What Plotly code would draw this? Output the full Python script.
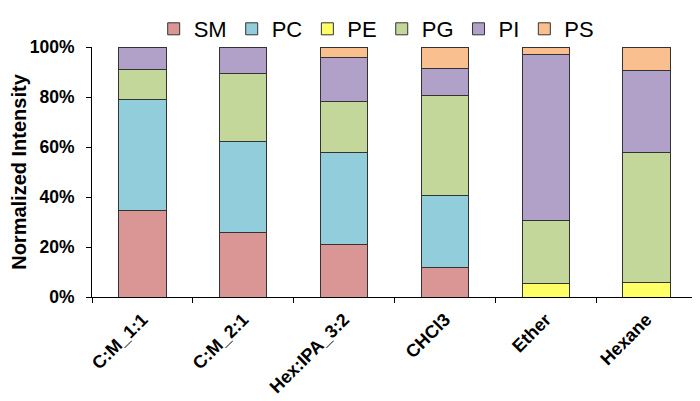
import plotly.graph_objects as go

categories = ["C:M_1:1", "C:M_2:1", "Hex:IPA_3:2", "CHCl3", "Ether", "Hexane"]
SM = [0.346, 0.259, 0.209, 0.117, 0.0, 0.0]
PC = [0.444, 0.363, 0.369, 0.291, 0.0, 0.0]
PE = [0.0, 0.0, 0.0, 0.0, 0.056, 0.059]
PG = [0.122, 0.272, 0.204, 0.398, 0.251, 0.519]
PI = [0.088, 0.106, 0.178, 0.108, 0.662, 0.329]
PS = [0.0, 0.0, 0.040, 0.086, 0.031, 0.093]

series = [("SM", SM, "#DA9694"), ("PC", PC, "#92CDDC"), ("PE", PE, "#FFFF66"),
          ("PG", PG, "#C4D79B"), ("PI", PI, "#B1A0C7"), ("PS", PS, "#FABF8F")]

fig = go.Figure()
for name, vals, col in series:
    fig.add_trace(go.Bar(x=categories, y=vals, name=name,
                         marker=dict(color=col, line=dict(color="#333333", width=1))))

fig.update_layout(
    width=700, height=401,
    barmode="stack", bargap=0.53,
    plot_bgcolor="white", paper_bgcolor="white",
    margin=dict(l=84, r=11, t=39, b=112, autoexpand=False),
    font=dict(family="Liberation Sans, Arial, sans-serif", color="black"),
    legend=dict(orientation="h", x=0.526, xanchor="center", xref="container",
                y=1, yanchor="top", yref="container", bgcolor="rgba(0,0,0,0)",
                font=dict(size=22, family="Liberation Sans, Arial"),
                itemwidth=30, traceorder="normal"),
    xaxis=dict(showline=True, linecolor="black", linewidth=1, ticks="outside",
               tickson="boundaries", ticklen=5, tickcolor="black", tickangle=-45,
               automargin=False, ticklabelstandoff=4,
               tickfont=dict(size=18, family="Liberation Sans, Arial", weight="bold")),
    yaxis=dict(range=[0, 1], tickvals=[0, 0.2, 0.4, 0.6, 0.8, 1.0], tickformat=".0%",
               showline=True, linecolor="black", linewidth=1, ticks="outside", ticklen=5,
               tickcolor="black", showgrid=False, zeroline=False, automargin=False,
               ticklabelstandoff=8,
               tickfont=dict(size=17.5, weight="bold"),
               title=dict(text="Normalized Intensity", font=dict(size=20, weight="bold"),
                          standoff=3)),
)

fig.write_html("out.html")
